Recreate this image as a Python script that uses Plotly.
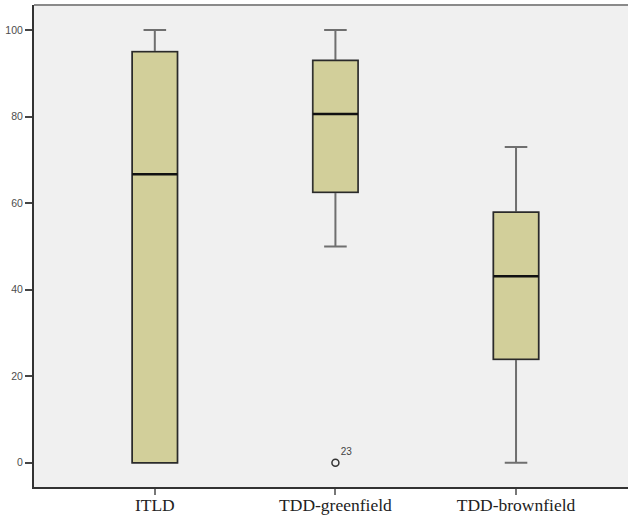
import plotly.graph_objects as go

# Summary statistics for each group (five-number summary)
groups = ["ITLD", "TDD-greenfield", "TDD-brownfield"]
lower_whisker = [0, 50, 0]
q1 = [0, 62.5, 23.9]
median = [66.7, 80.6, 43.1]
q3 = [95, 93, 57.9]
upper_whisker = [100, 100, 73]

# Outlying cases: group index, value, case id
outlier_group = [1]
outlier_value = [0]
outlier_id = ["23"]

positions = list(range(len(groups)))
BOX_W = 0.25
FILL = "#d2cf9a"
WHISKER = "#6f6f6f"
EDGE = "#2a2a2a"

fig = go.Figure()

for i, g in enumerate(groups):
    # whiskers and caps (grey)
    fig.add_trace(go.Box(
        x=[positions[i]], q1=[q1[i]], median=[median[i]], q3=[q3[i]],
        lowerfence=[lower_whisker[i]], upperfence=[upper_whisker[i]],
        width=BOX_W, whiskerwidth=0.5, fillcolor=FILL,
        line=dict(color=WHISKER, width=2), boxpoints=False,
        hoverinfo="skip", showlegend=False, name=g,
    ))
    # box body with dark outline
    fig.add_trace(go.Box(
        x=[positions[i]], q1=[q1[i]], median=[median[i]], q3=[q3[i]],
        lowerfence=[q1[i]], upperfence=[q3[i]],
        width=BOX_W, whiskerwidth=0, fillcolor=FILL,
        line=dict(color=EDGE, width=1.5), boxpoints=False,
        hoverinfo="skip", showlegend=False, name=g,
    ))
    # heavier median line
    fig.add_trace(go.Scatter(
        x=[positions[i] - BOX_W / 2, positions[i] + BOX_W / 2],
        y=[median[i], median[i]], mode="lines",
        line=dict(color="#111111", width=2.5),
        hoverinfo="skip", showlegend=False,
    ))

fig.add_trace(go.Scatter(
    x=[positions[g] for g in outlier_group], y=outlier_value,
    mode="markers+text", text=outlier_id, textposition="top right",
    textfont=dict(family="Arial, Liberation Sans, sans-serif", size=10, color="#444444"),
    marker=dict(symbol="circle-open", size=7, color="#333333", line=dict(width=1.5)),
    hoverinfo="skip", showlegend=False,
))

fig.update_layout(
    width=629, height=519,
    margin=dict(l=34, r=1, t=5, b=32),
    paper_bgcolor="white", plot_bgcolor="#f0f0f0",
    boxmode="overlay",
    xaxis=dict(
        range=[-0.669, 2.62], tickmode="array", tickvals=positions, ticktext=groups,
        automargin=False, ticklabelstandoff=-5,
        showgrid=False, zeroline=False, showline=True, linecolor="#333333", linewidth=2,
        ticks="outside", ticklen=6, tickcolor="#777777", tickwidth=1.5,
        tickfont=dict(family="Liberation Serif, Times New Roman, serif", size=17.5, color="#222222"),
    ),
    yaxis=dict(
        range=[-5.6, 105.8], tickmode="array", tickvals=[0, 20, 40, 60, 80, 100],
        automargin=False,
        showgrid=False, zeroline=False, showline=True, linecolor="#333333", linewidth=2,
        ticks="outside", ticklen=7, tickcolor="#444444", tickwidth=1.5,
        tickfont=dict(family="Arial, Liberation Sans, sans-serif", size=10.5, color="#4d4d4d"),
    ),
    shapes=[dict(type="line", xref="paper", yref="paper", x0=0, x1=1, y0=1, y1=1,
                 line=dict(color="#8a8a8a", width=2))],
)

fig.write_html("out.html")
